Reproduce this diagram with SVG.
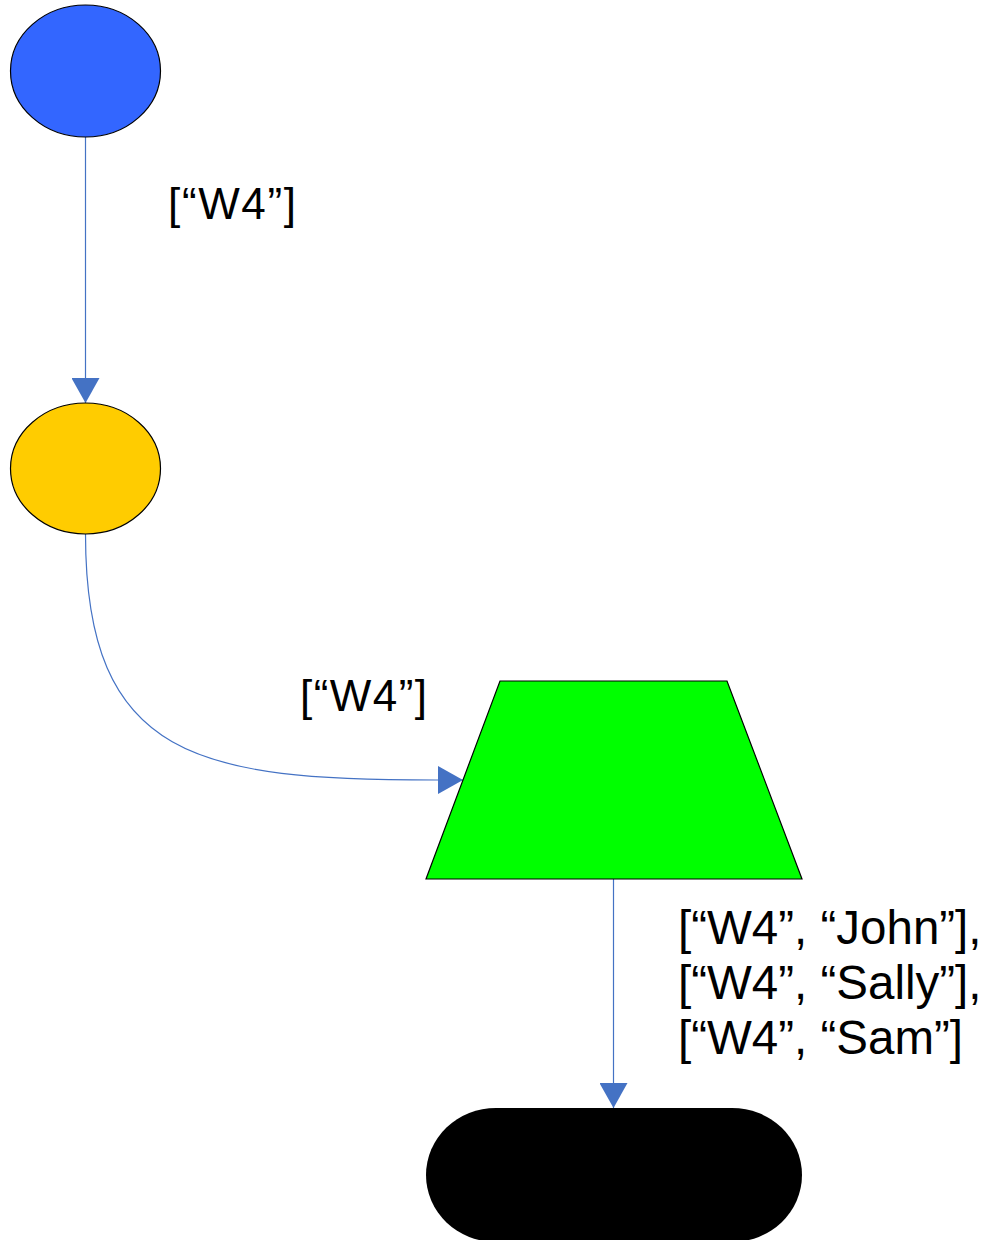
<svg xmlns="http://www.w3.org/2000/svg" width="985" height="1240" viewBox="0 0 985 1240">
  <style>
    .node { stroke: #000000; stroke-width: 1.2; }
    .edge { fill: none; stroke: #4472C4; stroke-width: 1.2; marker-end: url(#arrow); }
    .label { font-family: "Liberation Sans", Arial, sans-serif; fill: #000000; }
    .tag { font-size: 44px; }
    .rows { font-size: 47.5px; }
  </style>
  <defs>
    <marker id="arrow" markerUnits="userSpaceOnUse" markerWidth="26" markerHeight="28" viewBox="0 0 26 28" refX="25" refY="14" orient="auto">
      <path d="M0,0 L25,14 L0,28 Z" fill="#4472C4"/>
    </marker>
  </defs>

  <rect width="985" height="1240" fill="#FFFFFF"/>

  <!-- connectors -->
  <g id="connectors">
    <path class="edge" d="M85.5,137 V403"/>
    <path class="edge" d="M85.5,534 C85.5,760 200,780 436,780 L463,780"/>
    <path class="edge" d="M613.5,879 V1108"/>
  </g>

  <!-- edge labels -->
  <g id="labels">
    <text class="label tag" x="168" y="219" textLength="128" lengthAdjust="spacing">[“W4”]</text>
    <text class="label tag" x="300" y="711" textLength="127" lengthAdjust="spacing">[“W4”]</text>
    <text class="label rows" x="678" y="944">[“W4”, “John”],</text>
    <text class="label rows" x="678" y="999">[“W4”, “Sally”],</text>
    <text class="label rows" x="678" y="1054">[“W4”, “Sam”]</text>
  </g>

  <!-- nodes -->
  <g id="source">
    <ellipse class="node" cx="85.5" cy="71" rx="75" ry="66" fill="#3366FF"/>
  </g>
  <g id="filter">
    <ellipse class="node" cx="85.5" cy="468.5" rx="75" ry="65.5" fill="#FFCC00"/>
  </g>
  <g id="expand">
    <polygon class="node" points="500,681 727,681 802,879 426,879" fill="#00FF00"/>
  </g>
  <g id="sink">
    <rect x="426" y="1108" width="376" height="134" rx="70" ry="67" fill="#000000"/>
  </g>
</svg>
